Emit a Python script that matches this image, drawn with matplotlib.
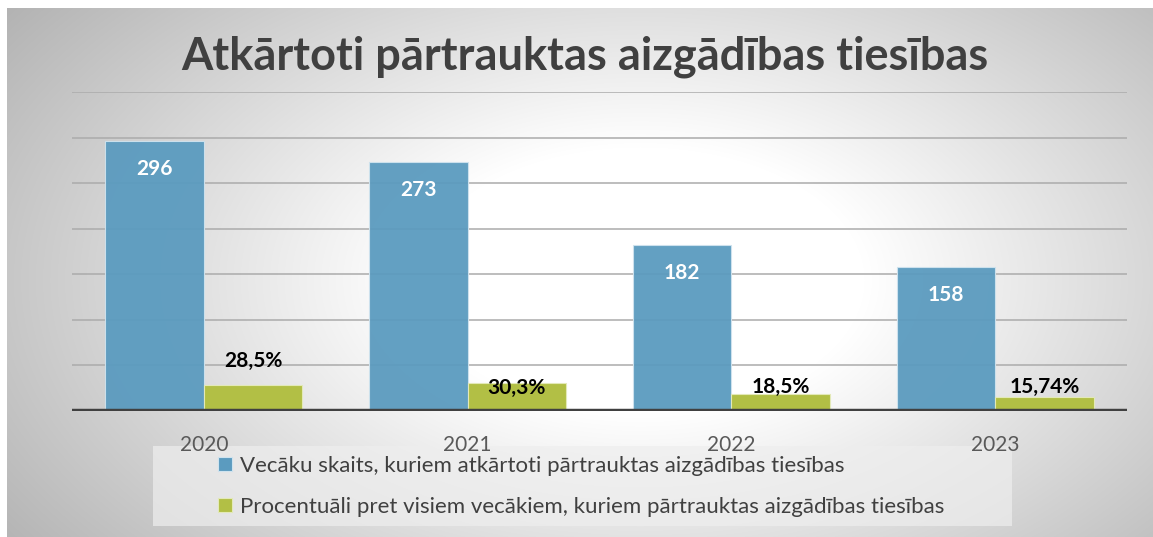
import numpy as np
import matplotlib
matplotlib.use('Agg')
import matplotlib.pyplot as plt
from matplotlib.patches import Rectangle

# Datos de la grafica
anios = ['2020', '2021', '2022', '2023']
vecaku_skaits = [296, 273, 182, 158]
procenti = [28.5, 30.3, 18.5, 15.74]
procenti_teksts = ['28,5%', '30,3%', '18,5%', '15,74%']
# desplazamiento manual de las etiquetas verdes (en puntos)
procenti_nobide = [17, -3, 5, 7]

nosaukums = 'Atkārtoti pārtrauktas aizgādības tiesības'
leg_zils = 'Vecāku skaits, kuriem atkārtoti pārtrauktas aizgādības tiesības'
leg_zals = 'Procentuāli pret visiem vecākiem, kuriem pārtrauktas aizgādības tiesības'

zils = '#5b9bbf'
zals = '#b2bf45'
plt.rcParams['font.family'] = ['Lato', 'DejaVu Sans']

W, H = 1153, 537
fig = plt.figure(figsize=(W / 100, H / 100), dpi=100)
fig.patch.set_facecolor('white')

# Fondo con degradado radial (gris en los bordes, blanco al centro)
ax_bg = fig.add_axes([7 / W, 0, 1 - 7 / W, 1 - 8 / H])
ax_bg.set_axis_off()
ax_bg.set_zorder(-2)
yy, xx = np.mgrid[8:H, 7:W]
r = np.sqrt(((xx - 640) / 640.0) ** 2 + ((yy - 280) / 380.0) ** 2)
val = 1 - 0.24 * np.clip((r - 0.35) / 0.7, 0, 1.3)
ax_bg.imshow(np.dstack([val, val, val]), aspect='auto', extent=[0, 1, 0, 1])

# Fondo de la leyenda (debajo de las etiquetas de los anios)
ax_leg = fig.add_axes([153 / W, 11 / H, (1012 - 153) / W, (526 - 446) / H])
ax_leg.set_axis_off()
ax_leg.set_zorder(-1)
ax_leg.add_patch(Rectangle((0, 0), 1, 1, transform=ax_leg.transAxes, facecolor='#eeeeee',
                           alpha=0.7, edgecolor='none'))

# Grafica principal
ax = fig.add_axes([72 / W, 126 / H, (1127 - 72) / W, (411 - 92) / H])
ax.set_facecolor('none')
x = np.arange(len(anios))
w = 0.373

ax.set_ylim(0, 350)
ax.set_xlim(-0.5, len(anios) - 0.5)
ax.set_yticks(np.arange(50, 351, 50))
ax.yaxis.grid(True, color='#ababab', linewidth=1.1)
ax.set_axisbelow(True)
ax.tick_params(axis='y', length=0, labelleft=False)
ax.tick_params(axis='x', length=0, pad=17, labelsize=15, labelcolor='#595959')
ax.set_xticks(x)
ax.set_xticklabels(anios)
for s in ax.spines.values():
    s.set_visible(False)

b1 = ax.bar(x - w / 2, vecaku_skaits, w, color=zils, edgecolor='#cfe3ee', linewidth=0.8,
            alpha=0.95, label=leg_zils, zorder=2)
b2 = ax.bar(x + w / 2, procenti, w, color=zals, edgecolor='#e3e9b8', linewidth=0.8,
            label=leg_zals, zorder=2)
ax.axhline(0, color='#404040', linewidth=3.2, zorder=3)

for rect, v in zip(b1, vecaku_skaits):
    ax.annotate(str(v), (rect.get_x() + rect.get_width() / 2, v), xytext=(0, -20),
                textcoords='offset points', ha='center', va='center',
                color='white', fontsize=15, fontweight='bold', zorder=4)

for rect, v, t, o in zip(b2, procenti, procenti_teksts, procenti_nobide):
    ax.annotate(t, (rect.get_x() + rect.get_width() / 2, v), xytext=(0, o),
                textcoords='offset points', ha='center', va='center',
                color='black', fontsize=15, fontweight='bold', zorder=4)

fig.text(0.507, 1 - 57 / H, nosaukums, ha='center', va='center', fontsize=32.5,
         fontweight='bold', color='#404040')

leg = fig.legend(handles=[b1, b2], loc='upper left', bbox_to_anchor=(218 / W, 1 - 456 / H),
                 frameon=False, fontsize=16, labelcolor='#404040',
                 handlelength=0.62, handleheight=0.62, handletextpad=0.35,
                 borderaxespad=0, borderpad=0, labelspacing=0.95)
for h in leg.legend_handles:
    h.set_alpha(1)

fig.savefig('out.png', dpi=100)
